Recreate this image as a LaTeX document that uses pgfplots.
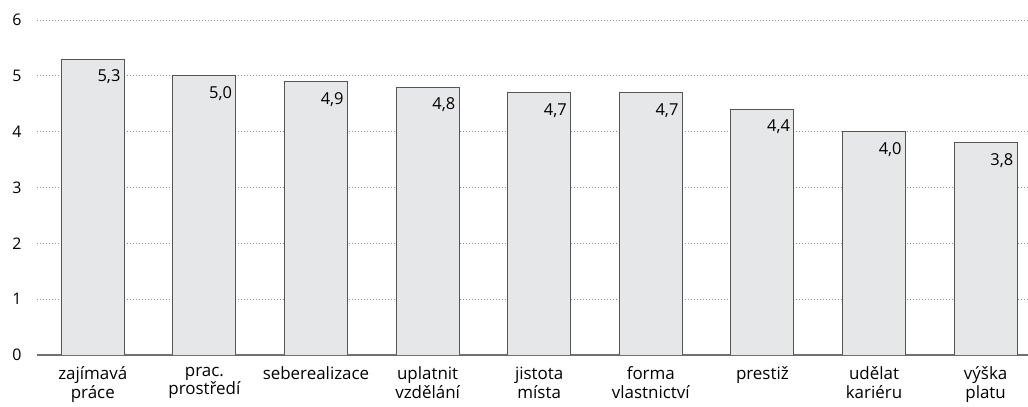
\documentclass[border=0pt]{standalone}
\usepackage{pgfplots}
\pgfplotsset{compat=1.18}
\usepackage{fontspec}
\setmainfont{Open Sans}
\definecolor{barfill}{HTML}{E6E7E8}
\definecolor{bardraw}{HTML}{555555}
\definecolor{gridc}{HTML}{8C8C8C}
\begin{document}
\begin{tikzpicture}
\begin{axis}[
  scale only axis,
  width=991bp, height=335bp,
  xmin=-0.5, xmax=8.38,
  ymin=0, ymax=6,
  ytick={0,1,2,3,4,5,6},
  xtick=data,
  xticklabels={{zajímavá\\práce},{prac.\\prostředí},{seberealizace},{uplatnit\\vzdělání},{jistota\\místa},{forma\\vlastnictví},{prestiž},{udělat\\kariéru},{výška\\platu}},
  xticklabel style={align=center, font=\fontsize{17}{19}\selectfont, yshift=-4bp},
  yticklabel style={font=\fontsize{16}{17}\selectfont, xshift=-12bp},
  tick style={draw=none},
  axis x line*=bottom, axis y line*=left,
  x axis line style={draw=gridc!80!black, line width=1.2bp, -},
  y axis line style={draw=none},
  ymajorgrids,
  major grid style={draw=gridc, dash pattern=on 1bp off 2bp, line width=0.8bp},
  /pgf/number format/assume math mode=true,
  ybar, bar width=0.565,
  nodes near coords,
  nodes near coords style={font=\fontsize{16.5}{17}\selectfont, anchor=north west, xshift=1bp, yshift=-7bp,
    /pgf/number format/.cd, fixed, fixed zerofill, precision=1, use comma, assume math mode=true},
]
\addplot[fill=barfill, draw=bardraw, line width=0.9bp] coordinates {
(0,5.3) (1,5.0) (2,4.9) (3,4.8) (4,4.7) (5,4.7) (6,4.4) (7,4.0) (8,3.8)};
\end{axis}
\pgfresetboundingbox
\path ([shift={(-37bp,-52bp)}]current axis.south west) rectangle ([shift={(0bp,20bp)}]current axis.north east);
\end{tikzpicture}
\end{document}
